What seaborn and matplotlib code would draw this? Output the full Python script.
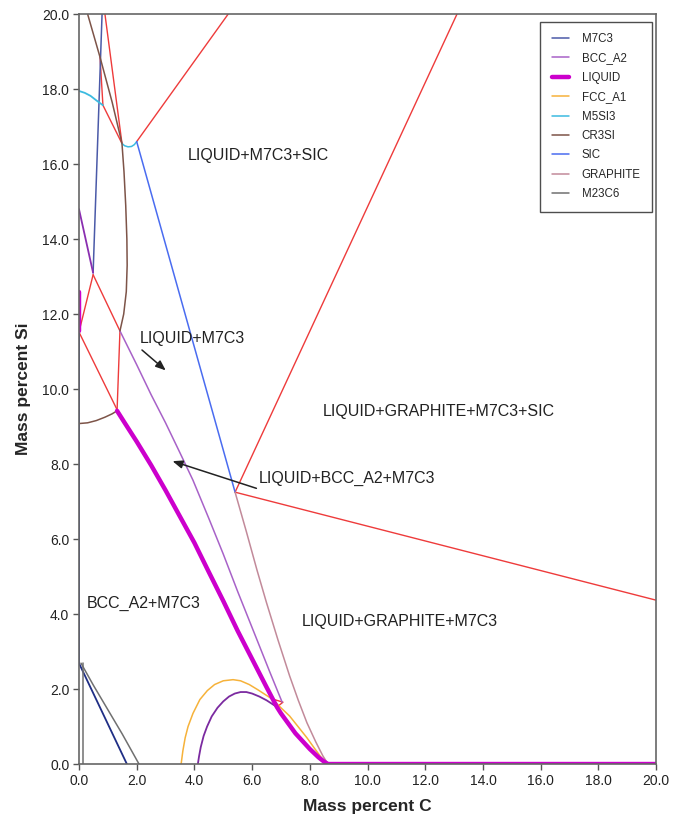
import matplotlib
matplotlib.use("Agg")
import matplotlib.pyplot as plt
import seaborn as sns
from matplotlib.lines import Line2D

sns.set_theme(style="white")
plt.rcParams["font.family"] = ["Liberation Sans", "DejaVu Sans"]

# ---- phase boundary data (mass percent C, mass percent Si) ----
liquid_axis_c = [0.0, 0.0]
liquid_axis_si = [12.6, 11.55]
liquid_c = [1.32, 1.6, 2.0, 2.5, 3.0, 3.5, 4.0, 4.5, 5.0, 5.5, 6.0, 6.5, 6.86,
            7.0, 7.5, 8.0, 8.3, 8.5, 8.63, 20.0]
liquid_si = [9.42, 9.08, 8.6, 7.97, 7.3, 6.6, 5.9, 5.12, 4.35, 3.55, 2.8, 2.05, 1.52,
             1.35, 0.82, 0.4, 0.18, 0.06, 0.0, 0.0]

bcc_top_c = [0.0, 0.49]
bcc_top_si = [14.8, 13.1]
bcc_c = [1.42, 2.0, 2.5, 3.0, 3.5, 3.95, 4.5, 5.0, 5.5, 6.17, 6.6, 7.04]
bcc_si = [11.55, 10.65, 9.85, 9.1, 8.3, 7.57, 6.55, 5.6, 4.6, 3.31, 2.48, 1.65]
bcc_dome_c = [4.12, 4.16, 4.22, 4.32, 4.44, 4.6, 4.8, 5.0, 5.2, 5.4, 5.6, 5.8, 6.0,
              6.25, 6.5, 6.7, 6.86]
bcc_dome_si = [0.0, 0.2, 0.45, 0.75, 1.0, 1.27, 1.5, 1.67, 1.8, 1.88, 1.92, 1.92, 1.88,
               1.8, 1.7, 1.6, 1.52]

fcc_c = [3.54, 3.6, 3.68, 3.78, 3.95, 4.19, 4.45, 4.7, 5.0, 5.34, 5.6, 5.9, 6.2, 6.5,
         6.72, 7.0, 7.3, 7.59, 7.9, 8.18, 8.4, 8.55]
fcc_si = [0.0, 0.35, 0.7, 1.0, 1.35, 1.72, 1.96, 2.12, 2.22, 2.25, 2.22, 2.12, 1.98, 1.83,
          1.72, 1.5, 1.28, 1.0, 0.7, 0.4, 0.17, 0.04]

m5si3_c = [0.0, 0.2, 0.4, 0.6, 0.83]
m5si3_si = [17.95, 17.9, 17.82, 17.7, 17.57]
m5si3_arc_c = [1.49, 1.58, 1.7, 1.82, 1.92, 2.0]
m5si3_arc_si = [16.55, 16.49, 16.46, 16.47, 16.52, 16.6]

cr3si_c = [0.3, 0.73, 1.15, 1.49, 1.56, 1.62, 1.66, 1.67, 1.64, 1.55, 1.42]
cr3si_si = [20.0, 18.85, 17.65, 16.55, 15.8, 14.9, 14.0, 13.3, 12.6, 12.0, 11.55]
cr3si_arc_c = [0.0, 0.3, 0.6, 0.9, 1.15, 1.32]
cr3si_arc_si = [9.08, 9.1, 9.16, 9.25, 9.34, 9.42]

sic_c = [2.0, 5.41]
sic_si = [16.6, 7.25]

graphite_c = [5.41, 5.8, 6.17, 6.5, 6.9, 7.3, 7.6, 7.9, 8.2, 8.45, 8.63]
graphite_si = [7.25, 6.2, 5.17, 4.3, 3.3, 2.35, 1.7, 1.1, 0.6, 0.22, 0.0]

m23c6_c = [0.07, 0.5, 1.0, 1.5, 2.08]
m23c6_si = [2.69, 2.1, 1.45, 0.8, 0.0]
m23c6_axis_c = [0.14, 0.14]
m23c6_axis_si = [0.0, 2.69]

m7c3_low_c = [0.0, 1.66]
m7c3_low_si = [2.69, 0.0]
m7c3_axis_c = [0.0, 0.0]
m7c3_axis_si = [2.69, 11.52]
m7c3_top_c = [0.49, 0.8]
m7c3_top_si = [13.1, 20.0]

# invariant (tie) lines
tie_lines = [
    ([0.0, 1.32], [11.52, 9.45]),
    ([0.0, 0.49], [11.52, 13.05]),
    ([0.49, 1.42], [13.05, 11.55]),
    ([1.42, 1.32], [11.55, 9.42]),
    ([0.9, 1.49], [20.0, 16.55]),
    ([0.83, 1.49], [17.57, 16.55]),
    ([0.73, 0.83], [18.85, 17.57]),
    ([2.0, 5.17], [16.6, 20.0]),
    ([5.41, 13.1], [7.25, 20.0]),
    ([5.41, 20.0], [7.25, 4.37]),
    ([6.72, 7.07, 6.86, 6.72], [1.73, 1.65, 1.52, 1.73]),
]

phase_names = ["M7C3", "BCC_A2", "LIQUID", "FCC_A1", "M5SI3", "CR3SI", "SIC", "GRAPHITE", "M23C6"]
phase_colors = ["#4b5aa8", "#a862c8", "#cc00cc", "#f6b23a", "#3cbbe0", "#7d5448", "#4a6cf0", "#c28a9a", "#707070"]
col = dict(zip(phase_names, phase_colors))
tie_color = "#ee3b3b"

fig = plt.figure(figsize=(6.75, 8.25), dpi=100)
ax = fig.add_axes([0.117, 0.0739, 0.855, 0.909])


def draw(x, y, color, lw=1.0):
    sns.lineplot(x=x, y=y, sort=False, estimator=None, color=color, linewidth=lw, ax=ax)


for xs, ys in tie_lines:
    draw(xs, ys, tie_color, 1.0)

draw(m7c3_low_c, m7c3_low_si, "#1f2e85", 1.3)
draw(m7c3_axis_c, m7c3_axis_si, "#2a3a90", 1.3)
draw(m7c3_top_c, m7c3_top_si, "#4b5aa8", 1.1)
draw(m23c6_c, m23c6_si, col["M23C6"], 1.1)
draw(m23c6_axis_c, m23c6_axis_si, col["M23C6"], 1.1)
draw(bcc_top_c, bcc_top_si, "#8a2fb0", 1.3)
draw(bcc_c, bcc_si, col["BCC_A2"], 1.1)
draw(bcc_dome_c, bcc_dome_si, "#7b2aa0", 1.3)
draw(fcc_c, fcc_si, col["FCC_A1"], 1.1)
draw(m5si3_c, m5si3_si, col["M5SI3"], 1.3)
draw(m5si3_arc_c, m5si3_arc_si, col["M5SI3"], 1.1)
draw(cr3si_c, cr3si_si, col["CR3SI"], 1.1)
draw(cr3si_arc_c, cr3si_arc_si, col["CR3SI"], 1.1)
draw(sic_c, sic_si, col["SIC"], 1.1)
draw(graphite_c, graphite_si, col["GRAPHITE"], 1.1)
draw(liquid_axis_c, liquid_axis_si, col["LIQUID"], 3.2)
draw(liquid_c, liquid_si, col["LIQUID"], 3.2)

ax.set_xlim(0, 20)
ax.set_ylim(0, 20)
ticks = [0, 2, 4, 6, 8, 10, 12, 14, 16, 18, 20]
ax.set_xticks(ticks)
ax.set_yticks(ticks)
ax.set_xticklabels([f"{t:.1f}" for t in ticks])
ax.set_yticklabels([f"{t:.1f}" for t in ticks])
ax.tick_params(axis="both", direction="out", length=4, width=1, color="#555555",
               labelsize=10, labelcolor="#222222", pad=3, bottom=True, left=True)
for s in ax.spines.values():
    s.set_color("#666666")
    s.set_linewidth(1.2)

ax.set_xlabel("Mass percent C", fontsize=12.5, fontweight="bold", labelpad=8)
ax.set_ylabel("Mass percent Si", fontsize=12.5, fontweight="bold", labelpad=8)

# region labels
tkw = dict(fontsize=11.5, color="#222222", va="center", ha="left")
ax.text(3.78, 16.24, "LIQUID+M7C3+SIC", **tkw)
ax.text(2.11, 11.36, "LIQUID+M7C3", **tkw)
ax.text(8.46, 9.39, "LIQUID+GRAPHITE+M7C3+SIC", **tkw)
ax.text(6.24, 7.63, "LIQUID+BCC_A2+M7C3", **tkw)
ax.text(0.28, 4.29, "BCC_A2+M7C3", **tkw)
ax.text(7.73, 3.79, "LIQUID+GRAPHITE+M7C3", **tkw)

akw = dict(arrowstyle="-|>,head_length=0.5,head_width=0.2", color="#222222", lw=1.1)
ax.annotate("", xy=(3.08, 10.45), xytext=(2.11, 11.09), arrowprops=akw)
ax.annotate("", xy=(3.15, 8.1), xytext=(6.24, 7.33), arrowprops=akw)

handles = [Line2D([0], [0], color=c, lw=(3.2 if n == "LIQUID" else 1.1)) for n, c in zip(phase_names, phase_colors)]
leg = ax.legend(handles, phase_names, loc="upper right", bbox_to_anchor=(0.993, 0.99),
                fontsize=8.3, frameon=True, fancybox=False, edgecolor="#222222",
                handlelength=1.5, handletextpad=1.1, labelspacing=0.64, borderpad=1.0,
                borderaxespad=0)
leg.get_frame().set_linewidth(1.0)

fig.savefig("out.png", dpi=100)
